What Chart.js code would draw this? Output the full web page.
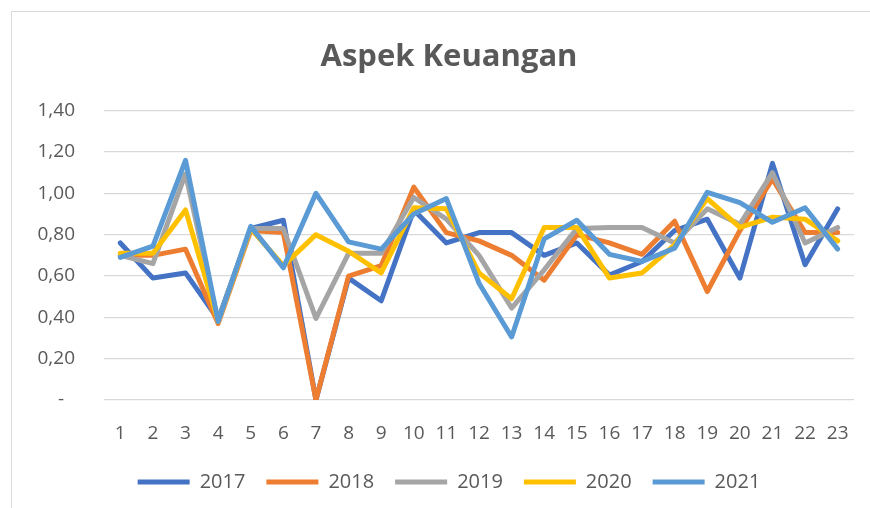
<!DOCTYPE html>
<html>
<head>
<meta charset="utf-8">
<script src="https://cdn.jsdelivr.net/npm/chart.js@4"></script>
<style>
  html, body { margin: 0; padding: 0; background: #fff; overflow: hidden; }
  body { width: 870px; height: 508px; position: relative; }
  #frame { position: absolute; left: 11px; top: 11px; width: 900px; height: 520px;
           border-left: 1.5px solid #d9d9d9; border-top: 1.5px solid #d9d9d9; }
  #wrap { position: absolute; left: 11px; top: 0; width: 876px; height: 508px; }
</style>
</head>
<body>
<div id="frame"></div>
<div id="wrap"><canvas id="chart"></canvas></div>
<script>
// Data
const categories = ['1','2','3','4','5','6','7','8','9','10','11','12','13','14','15','16','17','18','19','20','21','22','23'];
const years = ['2017', '2018', '2019', '2020', '2021'];
const colors = ['#4472C4', '#ED7D31', '#A5A5A5', '#FFC000', '#5B9BD5'];

const v2017 = [0.76, 0.59, 0.615, 0.39, 0.83, 0.87, 0.00, 0.59, 0.48, 0.92, 0.76, 0.81, 0.81, 0.70, 0.76, 0.605, 0.67, 0.82, 0.875, 0.59, 1.145, 0.655, 0.925];
const v2018 = [0.70, 0.70, 0.73, 0.37, 0.82, 0.81, 0.00, 0.60, 0.65, 1.03, 0.81, 0.77, 0.70, 0.58, 0.80, 0.76, 0.705, 0.865, 0.525, 0.82, 1.07, 0.81, 0.81];
const v2019 = [0.70, 0.66, 1.095, 0.38, 0.83, 0.83, 0.395, 0.71, 0.71, 0.98, 0.875, 0.70, 0.445, 0.63, 0.83, 0.835, 0.835, 0.76, 0.925, 0.85, 1.10, 0.76, 0.835];
const v2020 = [0.71, 0.71, 0.92, 0.38, 0.83, 0.65, 0.80, 0.72, 0.615, 0.93, 0.925, 0.615, 0.49, 0.835, 0.835, 0.59, 0.615, 0.75, 0.975, 0.835, 0.885, 0.875, 0.77];
const v2021 = [0.69, 0.745, 1.16, 0.38, 0.84, 0.64, 1.00, 0.765, 0.73, 0.90, 0.975, 0.565, 0.305, 0.78, 0.87, 0.705, 0.67, 0.735, 1.005, 0.955, 0.86, 0.93, 0.73];
const series = [v2017, v2018, v2019, v2020, v2021];

const yTicks = { min: 0, max: 1.4, step: 0.2 };

const textColor = '#595959';
const gridColor = '#d9d9d9';
const fontFamily = "'Open Sans', 'Noto Sans', sans-serif";

// format like Excel accounting: 1,40 and "-" for zero
function fmtTick(v) {
    if (Math.abs(v) < 1e-9) return '-\u2007';
    return v.toFixed(2).replace('.', ',');
}

const datasets = years.map((y, i) => ({
    label: y,
    data: series[i],
    borderColor: colors[i],
    backgroundColor: colors[i],
    borderWidth: 5,
    borderCapStyle: 'round',
    borderJoinStyle: 'round',
    pointRadius: 0,
    pointHoverRadius: 0,
    tension: 0,
    order: years.length - i
}));

new Chart(document.getElementById('chart'), {
    type: 'line',
    data: { labels: categories, datasets: datasets },
    options: {
        responsive: true,
        maintainAspectRatio: false,
        animation: false,
        layout: { padding: { left: 0, right: 0, top: 0, bottom: 6 } },
        plugins: {
            title: {
                display: true,
                text: 'Aspek Keuangan',
                color: textColor,
                font: { family: fontFamily, size: 31, weight: 'bold' },
                padding: { top: 39, bottom: 34.5 }
            },
            legend: {
                position: 'bottom',
                labels: {
                    color: textColor,
                    font: { family: fontFamily, size: 20 },
                    usePointStyle: true,
                    pointStyle: 'line',
                    pointStyleWidth: 52,
                    boxHeight: 20,
                    padding: 21,
                    sort: (a, b) => a.datasetIndex - b.datasetIndex
                }
            },
            tooltip: { enabled: false }
        },
        scales: {
            x: {
                offset: true,
                grid: { display: false, drawTicks: false },
                border: { display: false },
                ticks: {
                    color: textColor,
                    font: { family: fontFamily, size: 19 },
                    padding: 22,
                    maxRotation: 0,
                    autoSkip: false
                },
                afterFit: (scale) => { scale.width = scale.width; scale.height = 51; }
            },
            y: {
                min: yTicks.min,
                max: yTicks.max,
                grid: { color: gridColor, lineWidth: 1.3, drawTicks: false },
                border: { display: false },
                ticks: {
                    stepSize: yTicks.step,
                    color: textColor,
                    font: { family: fontFamily, size: 19 },
                    padding: 29,
                    callback: (v) => fmtTick(v)
                },
                afterFit: (scale) => { scale.width = 93; }
            },
            // empty right-hand spacer so the plot ends where the reference does
            spacer: {
                type: 'linear',
                position: 'right',
                display: true,
                grid: { display: false, drawTicks: false },
                border: { display: false },
                ticks: { display: false },
                afterFit: (scale) => { scale.width = 33; }
            }
        }
    }
});
</script>
</body>
</html>
